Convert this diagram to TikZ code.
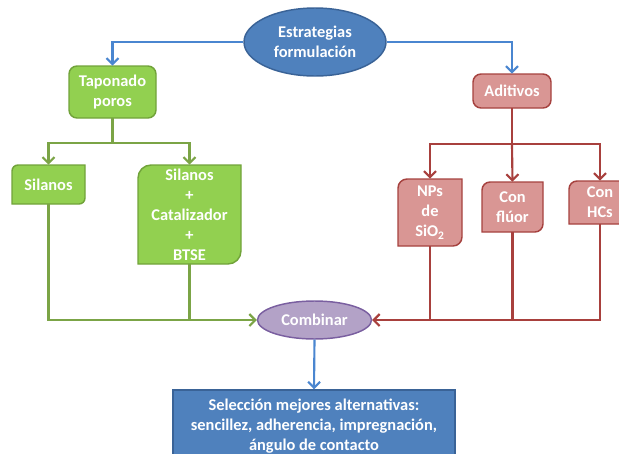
\documentclass[tikz,border=0pt]{standalone}
\usepackage{fontspec}
\setmainfont{Carlito}
\usetikzlibrary{shapes.geometric,arrows.meta}
\definecolor{gfill}{HTML}{92D050}
\definecolor{gdraw}{HTML}{71A33A}
\definecolor{glinec}{HTML}{7BA446}
\definecolor{rfill}{HTML}{D99694}
\definecolor{rdraw}{HTML}{A6423F}
\definecolor{rlinec}{HTML}{A8403D}
\definecolor{bfill}{HTML}{4F81BD}
\definecolor{bdraw}{HTML}{3A6397}
\definecolor{blinec}{HTML}{4A86D0}
\definecolor{pfill}{HTML}{B3A2C7}
\definecolor{pdraw}{HTML}{7A5FA0}
\tikzset{
  txt/.style={font=\fontsize{12.3}{15}\selectfont\bfseries, text=white, align=center, inner sep=0pt},
  gbox/.style={fill=gfill, draw=gdraw, line width=1.1pt},
  rbox/.style={fill=rfill, draw=rdraw, line width=1.1pt},
  conn/.style={line width=1.6pt},
  tip/.style={-{Straight Barb[length=4.5pt,width=9pt]}},
  gl/.style={conn, draw=glinec},
  rl/.style={conn, draw=rlinec},
  bl/.style={conn, draw=blinec},
}
\newcommand\dbox[8]{%
 \path[#7] ({#2},{#3+#6}) .. controls ({#2},{#3+0.448*#6}) and ({#2+0.448*#6},{#3}) .. ({#2+#6},{#3}) -- ({#4},{#3}) -- ({#4},{#5-#6}) .. controls ({#4},{#5-0.448*#6}) and ({#4-0.448*#6},{#5}) .. ({#4-#6},{#5}) -- ({#2},{#5}) -- cycle;
 \node[txt, minimum width={(#4-#2)*0.75pt}, minimum height={(#5-#3)*0.75pt}] (#1) at ({(#2+#4)/2},{(#3+#5)/2}) {#8};}
\begin{document}
\begin{tikzpicture}[x=0.75pt,y=-0.75pt]
\useasboundingbox (0,0) rectangle (619,454);
\clip (0,0) rectangle (619,454);
% top ellipse
\node[ellipse, fill=bfill, draw=bdraw, line width=1.1pt, minimum width=106.5pt, minimum height=51pt, inner sep=0pt, txt] (est) at (315,42) {Estrategias\\formulación};
% boxes
\path[gbox, rounded corners=6pt] (69,66) rectangle (156,118);
\node[txt, minimum width=65pt, minimum height=39pt] (tap) at (112.5,92) {Taponado\\poros};
\path[rbox, rounded corners=6pt] (473,74) rectangle (551,108);
\node[txt, minimum width=58.5pt, minimum height=25.5pt] (adi) at (512,91) {Aditivos};
\dbox{sil}{12}{165}{85}{204}{6}{gbox}{Silanos}
\dbox{sc}{138}{165}{241}{264}{13}{gbox}{Silanos\\+\\Catalizador\\+\\BTSE}
\dbox{nps}{398}{179}{462}{246}{9}{rbox}{NPs\\de\\SiO\textsubscript{2}}
\dbox{flu}{482}{182}{543}{232}{8}{rbox}{Con\\flúor}
\dbox{hcs}{569}{181}{631}{224}{8}{rbox}{Con\\HCs}
\node[ellipse, fill=pfill, draw=pdraw, line width=1.1pt, minimum width=85.5pt, minimum height=28.5pt, inner sep=0pt, txt] (comb) at (314.5,320) {Combinar};
\node[rectangle, fill=bfill, draw=bdraw, line width=1.1pt, minimum width=211.5pt, minimum height=54pt, inner sep=0pt, txt] (sel) at (314,426) {Selección mejores alternativas:\\sencillez, adherencia, impregnación,\\ángulo de contacto};
% coordinates
\coordinate (gM) at (112.5,143);
\coordinate (rM) at (512,144);
% blue connectors
\draw[bl, tip] (est.west) -| (tap.north);
\draw[bl, tip] (est.east) -| (adi.north);
\draw[bl, tip] (comb.south) -- (sel.north);
% green
\draw[gl] (tap.south) -- (gM);
\draw[gl, tip] (gM) -| (sil.north);
\draw[gl, tip] (gM) -| (sc.north);
\draw[gl, tip] (sil.south) |- (comb.west);
\draw[gl] (sc.south) -- (sc.south |- comb.west);
% red
\draw[rl] (adi.south) -- (rM);
\draw[rl, tip] (rM) -| (nps.north);
\draw[rl, tip] (rM) -- (flu.north);
\draw[rl, tip] (rM) -| (hcs.north);
\draw[rl, tip] (hcs.south) |- (comb.east);
\draw[rl] (nps.south) -- (nps.south |- comb.east);
\draw[rl] (flu.south) -- (flu.south |- comb.east);
\end{tikzpicture}
\end{document}
